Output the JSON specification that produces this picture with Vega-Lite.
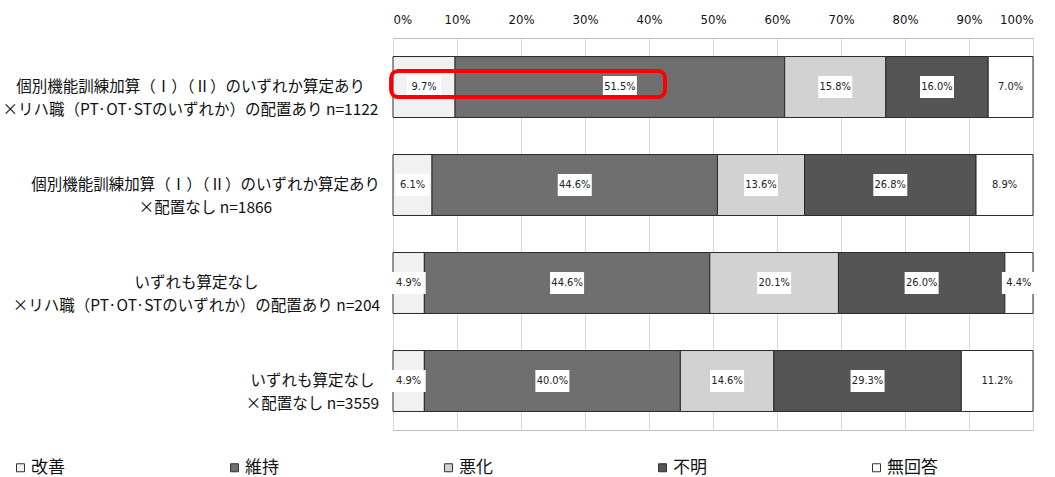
{
  "$schema": "https://vega.github.io/schema/vega-lite/v6.json",
  "width": 640,
  "height": 392,
  "autosize": {"type": "none"},
  "padding": {"left": 393, "top": 38, "right": 22, "bottom": 47},
  "background": "white",
  "config": {
    "view": {"stroke": "#bfbfbf", "strokeWidth": 1},
    "font": "Noto Sans CJK JP"
  },
  "datasets": {
    "main": [
      {"group": "個別機能訓練加算（Ⅰ）（Ⅱ）のいずれか算定あり|×リハ職（PT·OT·STのいずれか）の配置あり n=1122", "cat": "改善", "k": 1, "pct": 9.7},
      {"group": "個別機能訓練加算（Ⅰ）（Ⅱ）のいずれか算定あり|×リハ職（PT·OT·STのいずれか）の配置あり n=1122", "cat": "維持", "k": 2, "pct": 51.5},
      {"group": "個別機能訓練加算（Ⅰ）（Ⅱ）のいずれか算定あり|×リハ職（PT·OT·STのいずれか）の配置あり n=1122", "cat": "悪化", "k": 3, "pct": 15.8},
      {"group": "個別機能訓練加算（Ⅰ）（Ⅱ）のいずれか算定あり|×リハ職（PT·OT·STのいずれか）の配置あり n=1122", "cat": "不明", "k": 4, "pct": 16.0},
      {"group": "個別機能訓練加算（Ⅰ）（Ⅱ）のいずれか算定あり|×リハ職（PT·OT·STのいずれか）の配置あり n=1122", "cat": "無回答", "k": 5, "pct": 7.0},
      {"group": "個別機能訓練加算（Ⅰ）（Ⅱ）のいずれか算定あり|×配置なし n=1866", "cat": "改善", "k": 1, "pct": 6.1},
      {"group": "個別機能訓練加算（Ⅰ）（Ⅱ）のいずれか算定あり|×配置なし n=1866", "cat": "維持", "k": 2, "pct": 44.6},
      {"group": "個別機能訓練加算（Ⅰ）（Ⅱ）のいずれか算定あり|×配置なし n=1866", "cat": "悪化", "k": 3, "pct": 13.6},
      {"group": "個別機能訓練加算（Ⅰ）（Ⅱ）のいずれか算定あり|×配置なし n=1866", "cat": "不明", "k": 4, "pct": 26.8},
      {"group": "個別機能訓練加算（Ⅰ）（Ⅱ）のいずれか算定あり|×配置なし n=1866", "cat": "無回答", "k": 5, "pct": 8.9},
      {"group": "いずれも算定なし|×リハ職（PT·OT·STのいずれか）の配置あり n=204", "cat": "改善", "k": 1, "pct": 4.9},
      {"group": "いずれも算定なし|×リハ職（PT·OT·STのいずれか）の配置あり n=204", "cat": "維持", "k": 2, "pct": 44.6},
      {"group": "いずれも算定なし|×リハ職（PT·OT·STのいずれか）の配置あり n=204", "cat": "悪化", "k": 3, "pct": 20.1},
      {"group": "いずれも算定なし|×リハ職（PT·OT·STのいずれか）の配置あり n=204", "cat": "不明", "k": 4, "pct": 26.0},
      {"group": "いずれも算定なし|×リハ職（PT·OT·STのいずれか）の配置あり n=204", "cat": "無回答", "k": 5, "pct": 4.4},
      {"group": "いずれも算定なし|×配置なし n=3559", "cat": "改善", "k": 1, "pct": 4.9},
      {"group": "いずれも算定なし|×配置なし n=3559", "cat": "維持", "k": 2, "pct": 40.0},
      {"group": "いずれも算定なし|×配置なし n=3559", "cat": "悪化", "k": 3, "pct": 14.6},
      {"group": "いずれも算定なし|×配置なし n=3559", "cat": "不明", "k": 4, "pct": 29.3},
      {"group": "いずれも算定なし|×配置なし n=3559", "cat": "無回答", "k": 5, "pct": 11.2}
    ],
    "highlight": [
      {"group": "個別機能訓練加算（Ⅰ）（Ⅱ）のいずれか算定あり|×リハ職（PT·OT·STのいずれか）の配置あり n=1122", "hx0": -0.3, "hx1": 42.5}
    ]
  },
  "encoding": {
    "y": {
      "field": "group",
      "type": "nominal",
      "sort": null,
      "title": null,
      "scale": {"paddingInner": 0.378, "paddingOuter": 0.189},
      "axis": {
        "ticks": false,
        "domain": false,
        "labelAlign": "center",
        "labelBaseline": "middle",
        "labelExpr": "split(datum.label, '|')",
        "labelFontSize": 15.5,
        "labelLineHeight": 23,
        "labelLimit": 0,
        "labelColor": "#111",
        "labelPadding": {
          "condition": [
            {"test": "indexof(datum.value, 'n=1122') >= 0", "value": 203},
            {"test": "indexof(datum.value, 'n=1866') >= 0", "value": 188},
            {"test": "indexof(datum.value, 'n=204') >= 0", "value": 197}
          ],
          "value": 81
        }
      }
    }
  },
  "layer": [
    {
      "data": {"name": "main"},
      "transform": [
        {"stack": "pct", "groupby": ["group"], "sort": [{"field": "k"}], "as": ["s0", "s1"]}
      ],
      "mark": {"type": "bar", "stroke": "#2a2a2a", "strokeWidth": 1},
      "encoding": {
        "x": {
          "field": "s0",
          "type": "quantitative",
          "title": null,
          "scale": {"domain": [0, 100]},
          "axis": {
            "orient": "top",
            "values": [0, 10, 20, 30, 40, 50, 60, 70, 80, 90, 100],
            "labelExpr": "datum.value + '%'",
            "ticks": false,
            "domain": false,
            "grid": true,
            "gridColor": "#d6d6d6",
            "labelPadding": 12,
            "labelFont": "Liberation Sans Narrow, DejaVu Sans Condensed, Liberation Sans",
            "labelFontSize": 13,
            "labelColor": "#111"
          }
        },
        "x2": {"field": "s1"},
        "color": {
          "field": "cat",
          "type": "nominal",
          "scale": {
            "domain": ["改善", "維持", "悪化", "不明", "無回答"],
            "range": ["#f1f1f1", "#6f6f6f", "#d2d2d2", "#555555", "#ffffff"]
          },
          "legend": {
            "title": null,
            "orient": "none",
            "legendX": -381,
            "legendY": 421,
            "direction": "horizontal",
            "columns": 5,
            "gridAlign": "all",
            "columnPadding": 144,
            "symbolType": "square",
            "symbolSize": 64,
            "symbolStrokeColor": "#333",
            "symbolStrokeWidth": 1,
            "labelFontSize": 17,
            "labelOffset": 2,
            "labelColor": "#111"
          }
        },
        "order": {"field": "k"}
      }
    },
    {
      "data": {"name": "main"},
      "transform": [
        {"stack": "pct", "groupby": ["group"], "sort": [{"field": "k"}], "as": ["s0", "s1"]},
        {"calculate": "(datum.s0 + datum.s1) / 2", "as": "mid"}
      ],
      "mark": {"type": "point", "shape": "M-1,-0.65L1,-0.65L1,0.65L-1,0.65Z", "filled": true, "fill": "white", "opacity": 1, "strokeWidth": 0, "size": 1156},
      "encoding": {
        "x": {"field": "mid", "type": "quantitative"}
      }
    },
    {
      "data": {"name": "main"},
      "transform": [
        {"stack": "pct", "groupby": ["group"], "sort": [{"field": "k"}], "as": ["s0", "s1"]},
        {"calculate": "(datum.s0 + datum.s1) / 2", "as": "mid"},
        {"calculate": "format(datum.pct, '.1f') + '%'", "as": "lbl"}
      ],
      "mark": {"type": "text", "font": "Liberation Sans Narrow, DejaVu Sans Condensed, Liberation Sans", "fontSize": 11, "color": "#222"},
      "encoding": {
        "x": {"field": "mid", "type": "quantitative"},
        "text": {"field": "lbl"}
      }
    },
    {
      "data": {"name": "highlight"},
      "mark": {"type": "bar", "height": {"band": 0.43}, "yOffset": -3, "cornerRadius": 7, "fillOpacity": 0, "fill": "white", "stroke": "#ff0000", "strokeWidth": 4},
      "encoding": {
        "x": {"field": "hx0", "type": "quantitative"},
        "x2": {"field": "hx1"}
      }
    }
  ]
}
